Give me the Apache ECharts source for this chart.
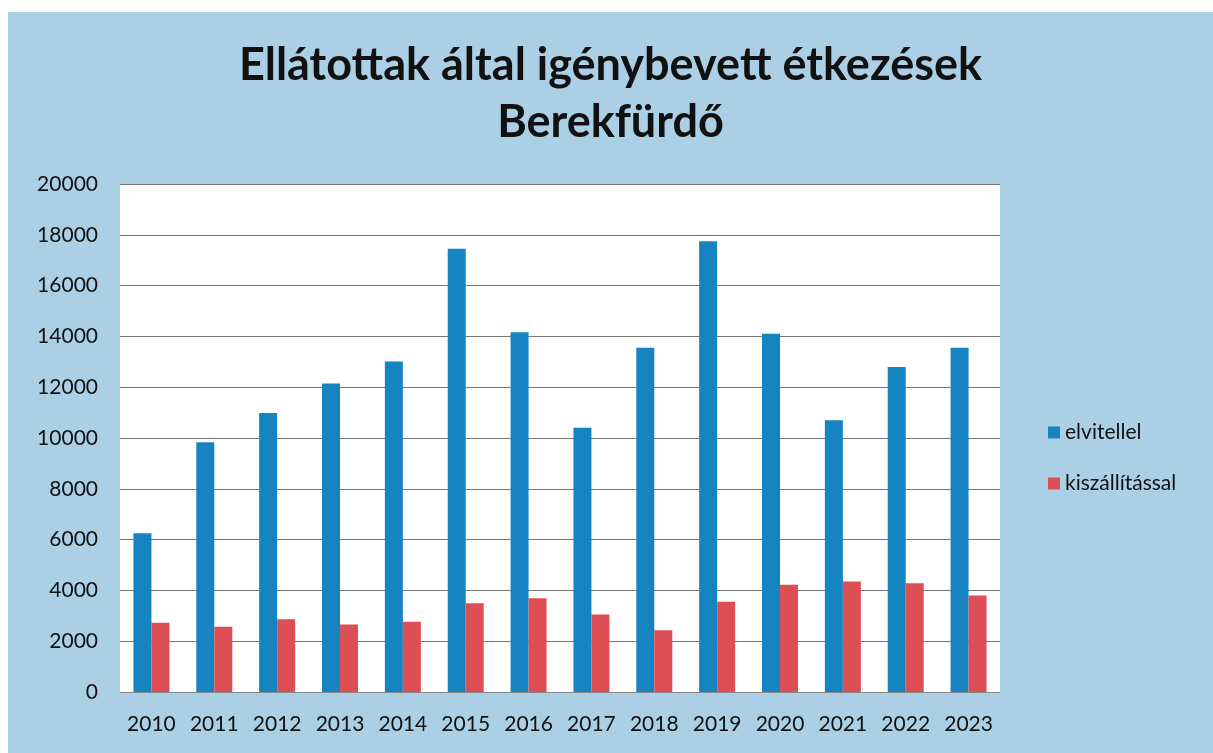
<!DOCTYPE html>
<html>
<head>
<meta charset="utf-8">
<script src="https://cdn.jsdelivr.net/npm/echarts@6/dist/echarts.min.js"></script>
<style>
  html, body { margin: 0; padding: 0; background: #ffffff; }
  #main { position: absolute; left: 8px; top: 12px; width: 1205px; height: 741px; }
</style>
</head>
<body>
<div id="main"></div>
<script>
// évek és értékek
var years = ['2010','2011','2012','2013','2014','2015','2016','2017','2018','2019','2020','2021','2022','2023'];
var elvitellel = [6250, 9830, 10980, 12150, 13010, 17450, 14160, 10400, 13550, 17750, 14100, 10700, 12800, 13550];
var kiszallitassal = [2730, 2570, 2860, 2660, 2770, 3490, 3690, 3050, 2430, 3550, 4220, 4350, 4280, 3800];
var yTicks = [0, 2000, 4000, 6000, 8000, 10000, 12000, 14000, 16000, 18000, 20000];

var myChart = echarts.init(document.getElementById('main'));
var option = {
  backgroundColor: '#abd0e5',
  textStyle: { fontFamily: 'Lato' },
  title: {
    text: 'Ellátottak által igénybevett étkezések\nBerekfürdő',
    left: 'center',
    top: 20,
    textStyle: {
      fontFamily: 'Lato',
      fontWeight: 'bold',
      fontSize: 45,
      lineHeight: 57,
      color: '#111'
    }
  },
  legend: {
    orient: 'vertical',
    left: 1035,
    top: 405,
    itemGap: 30,
    itemWidth: 12,
    itemHeight: 12,
    icon: 'rect',
    textStyle: { fontFamily: 'Lato', fontSize: 21, color: '#111' },
    data: ['elvitellel', 'kiszállítással']
  },
  grid: {
    left: 112,
    top: 172,
    width: 880,
    bottom: 61,
    backgroundColor: '#ffffff',
    show: true,
    borderWidth: 0
  },
  xAxis: {
    type: 'category',
    data: years,
    axisLine: { lineStyle: { color: '#888' } },
    axisTick: { show: false },
    axisLabel: { fontFamily: 'Lato', fontSize: 21, color: '#111', margin: 22, interval: 0, hideOverlap: false }
  },
  yAxis: {
    type: 'value',
    min: yTicks[0],
    max: yTicks[yTicks.length - 1],
    interval: 2000,
    axisLine: { show: false },
    axisTick: { show: false },
    splitLine: { lineStyle: { color: '#777', width: 1 } },
    axisLabel: {
      fontFamily: 'Lato',
      fontSize: 21,
      color: '#111',
      margin: 22,
      formatter: function (v) { return String(v); }
    }
  },
  series: [
    {
      name: 'elvitellel',
      type: 'bar',
      data: elvitellel,
      barWidth: 18,
      barGap: '0%',
      itemStyle: { color: '#1784c2' }
    },
    {
      name: 'kiszállítással',
      type: 'bar',
      data: kiszallitassal,
      barWidth: 18,
      itemStyle: { color: '#dd4f55' }
    }
  ]
};
myChart.setOption(option);
</script>
</body>
</html>
